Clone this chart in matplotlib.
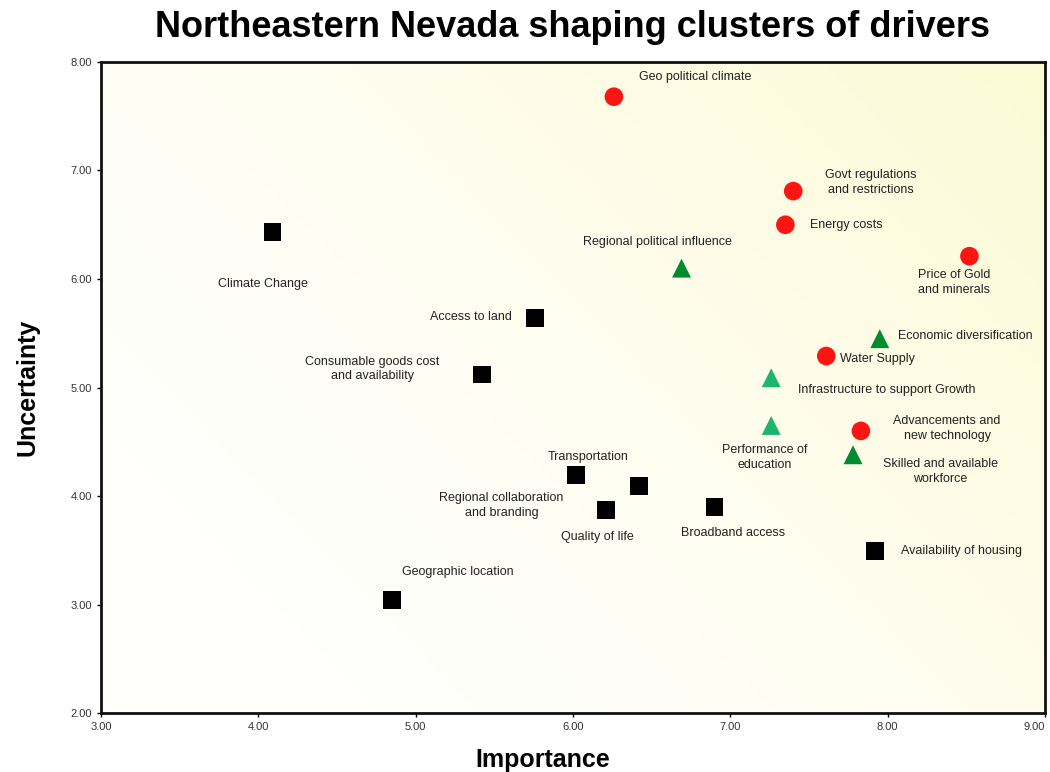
import matplotlib
matplotlib.use("Agg")
import matplotlib.pyplot as plt
import numpy as np
from matplotlib.colors import LinearSegmentedColormap

plt.rcParams['font.family'] = ['Liberation Sans', 'DejaVu Sans']

# --- data: (importance, uncertainty) per driver, by cluster ---
red_names = ["Geo political climate", "Govt regulations\nand restrictions", "Energy costs",
             "Price of Gold\nand minerals", "Water Supply", "Advancements and\nnew technology"]
red_x = [6.26, 7.40, 7.35, 8.52, 7.61, 7.83]
red_y = [7.68, 6.81, 6.50, 6.21, 5.29, 4.60]

dkgreen_names = ["Regional political influence", "Economic diversification",
                 "Skilled and available\nworkforce"]
dkgreen_x = [6.69, 7.95, 7.78]
dkgreen_y = [6.10, 5.45, 4.38]

ltgreen_names = ["Infrastructure to support Growth", "Performance of\neducation"]
ltgreen_x = [7.26, 7.26]
ltgreen_y = [5.09, 4.65]

black_names = ["Climate Change", "Access to land", "Consumable goods cost\nand availability",
               "Transportation", "Regional collaboration\nand branding", "Quality of life",
               "Broadband access", "Availability of housing", "Geographic location"]
black_x = [4.09, 5.76, 5.42, 6.02, 6.42, 6.21, 6.90, 7.92, 4.85]
black_y = [6.43, 5.64, 5.12, 4.19, 4.09, 3.87, 3.90, 3.49, 3.04]

# label placement: offset in points and horizontal alignment
label_pos = {
    "Geo political climate": (18, 14, 'left'),
    "Govt regulations\nand restrictions": (56, 6, 'center'),
    "Energy costs": (18, 0, 'left'),
    "Price of Gold\nand minerals": (-11, -19, 'center'),
    "Water Supply": (10, -2, 'left'),
    "Advancements and\nnew technology": (62, 1.5, 'center'),
    "Regional political influence": (-17, 19, 'center'),
    "Economic diversification": (13, 2, 'left'),
    "Skilled and available\nworkforce": (63, -12, 'center'),
    "Infrastructure to support Growth": (19, -9, 'left'),
    "Performance of\neducation": (-5, -23, 'center'),
    "Climate Change": (-7, -37, 'center'),
    "Access to land": (-17, 0.7, 'right'),
    "Consumable goods cost\nand availability": (-79, 4, 'center'),
    "Transportation": (9, 13, 'center'),
    "Regional collaboration\nand branding": (-99, -14, 'center'),
    "Quality of life": (-6.5, -19.5, 'center'),
    "Broadband access": (13, -19, 'center'),
    "Availability of housing": (19, 0, 'left'),
    "Geographic location": (47.5, 20, 'center'),
}

fig = plt.figure(figsize=(10.5, 7.72), dpi=100)
ax = fig.add_axes([0.0962, 0.0764, 0.8990, 0.8433])

ax.set_xlim(3, 9)
ax.set_ylim(2, 8)

# background gradient: white bottom-left to pale yellow top-right
gx, gy = np.meshgrid(np.linspace(0, 1, 200), np.linspace(0, 1, 200))
grad = np.clip((gx * 0.6 + gy * 0.4 - 0.15) / 0.85, 0, 1) ** 1.6
bg = LinearSegmentedColormap.from_list("bg", ["#fffffb", "#fefce6", "#fcfad4"])
ax.imshow(grad, extent=[3, 9, 2, 8], origin='lower', cmap=bg, aspect='auto', zorder=0)

series = [
    (red_names, red_x, red_y, 'o', '#ff1414', 180),
    (dkgreen_names, dkgreen_x, dkgreen_y, '^', '#008c2e', 185),
    (ltgreen_names, ltgreen_x, ltgreen_y, '^', '#1db56e', 185),
    (black_names, black_x, black_y, 's', '#000000', 165),
]
for names, xs, ys, m, c, s in series:
    ax.scatter(xs, ys, marker=m, color=c, s=s, edgecolors='none', zorder=3)
    for n, x, y in zip(names, xs, ys):
        dx, dy, ha = label_pos[n]
        ax.annotate(n, (x, y), xytext=(dx, dy), textcoords='offset points',
                    ha=ha, va='center', multialignment='center', linespacing=1.3,
                    fontsize=9, color='#222222', zorder=4)

ax.set_xticks(np.arange(3, 10, 1))
ax.set_yticks(np.arange(2, 9, 1))
ax.set_xticklabels([f"{v:.2f}" for v in ax.get_xticks()])
ax.set_yticklabels([f"{v:.2f}" for v in ax.get_yticks()])
ax.tick_params(labelsize=8, labelcolor='#333333', length=3, width=1, direction='out')
# keep the last x tick label inside the figure
ax.get_xticklabels()[-1].set_horizontalalignment('right')

for sp in ax.spines.values():
    sp.set_linewidth(2)
    sp.set_color('#111111')

ax.set_xlabel("Importance", fontsize=18, fontweight='bold')
ax.xaxis.set_label_coords(0.468, -0.054)
ax.set_ylabel("Uncertainty", fontsize=18, fontweight='bold', labelpad=22)

fig.text(0.545, 0.964, "Northeastern Nevada shaping clusters of drivers",
         ha='center', va='center', fontsize=26, fontweight='bold')

fig.savefig("out.png", dpi=100, facecolor='white')
